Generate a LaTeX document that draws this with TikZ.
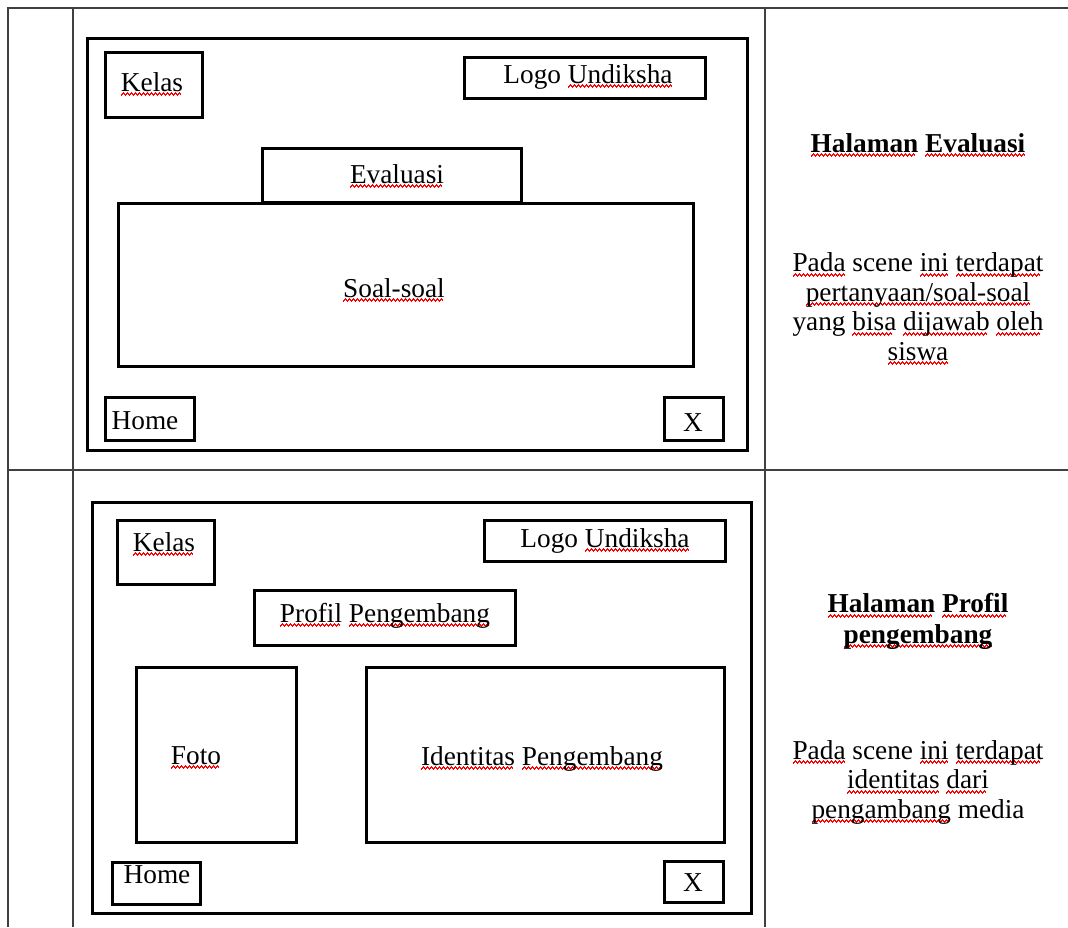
\documentclass[tikz,border=0pt]{standalone}
\usepackage{fontspec}
\setmainfont{Liberation Serif}
% red spell-check wave under a word
\newcommand{\wv}{\hbox{\rule[-5pt]{1pt}{1.6pt}\rule[-4pt]{1pt}{1.6pt}\rule[-3pt]{1pt}{1.6pt}\rule[-4pt]{1pt}{1.6pt}}}
\newcommand{\sq}[1]{\setbox0=\hbox{#1}\rlap{\color{red}\hbox to\wd0{\leaders\wv\hfill}}#1}

\begin{document}
\begin{tikzpicture}[x=1pt,y=-1pt,
	box/.style={draw,line width=3pt,inner sep=0pt,rectangle},
	grid/.style={draw=black!75,line width=1.3pt},
	lbl/.style={anchor=base,inner sep=0pt,align=center,
	font=\fontsize{27.3}{29.5}\selectfont}]
\useasboundingbox (0,0) rectangle (1068,927);
% table
\draw[grid] (8,927) -- (8,8) -- (1068,8);
\draw[grid] (73,8) -- (73,927);
\draw[grid] (765,8) -- (765,927);
\draw[grid] (8,470) -- (1068,470);
% halaman evaluasi
\node[box, minimum width=660pt, minimum height=412pt] (scrA) at (417,244) {};
\node[box, minimum width=97pt, minimum height=65pt] (kelasA) at (153.5,84.5) {};
\node[box, minimum width=241pt, minimum height=41pt] (logoA) at (584.5,77.5) {};
\node[box, minimum width=259pt, minimum height=54pt] (evalA) at (391.5,175) {};
\node[box, minimum width=575pt, minimum height=163pt] (soalA) at (405.5,284.5) {};
\node[box, minimum width=89pt, minimum height=43pt] (homeA) at (149.5,418.5) {};
\node[box, minimum width=59pt, minimum height=43pt] (xA) at (693.5,418.5) {};
\node[lbl] (kelasAt) at (152,91) {\sq{Kelas}};
\node[lbl] (logoAt) at (588,83) {Logo \sq{Undiksha}};
\node[lbl] (evalAt) at (397,183) {\sq{Evaluasi}};
\node[lbl] (soalAt) at (394,297) {\sq{Soal-soal}};
\node[lbl] (homeAt) at (145,429) {Home};
\node[lbl] (xAt) at (693,431) {X};
\node[lbl, font=\fontsize{27.3}{29.5}\selectfont\bfseries] (headA) at (918,152) {\sq{Halaman} \sq{Evaluasi}};
% base of a multi-line node is its last line
\node[lbl] (descA) at (918,360) {\sq{Pada} scene \sq{ini} \sq{terdapat}\\
	\sq{pertanyaan/soal-soal}\\ yang \sq{bisa} \sq{dijawab} \sq{oleh}\\ \sq{siswa}};
% halaman profil pengembang
\node[box, minimum width=659pt, minimum height=411pt] (scrB) at (421.5,707.5) {};
\node[box, minimum width=97pt, minimum height=64pt] (kelasB) at (165.5,552) {};
\node[box, minimum width=241pt, minimum height=41pt] (logoB) at (604.5,540.5) {};
\node[box, minimum width=261pt, minimum height=55pt] (profB) at (384.5,617.5) {};
\node[box, minimum width=160pt, minimum height=175pt] (fotoB) at (216,754.5) {};
\node[box, minimum width=358pt, minimum height=175pt] (identB) at (545,754.5) {};
\node[box, minimum width=88pt, minimum height=42pt] (homeB) at (156,883) {};
\node[box, minimum width=59pt, minimum height=41pt] (xB) at (693.5,881.5) {};
\node[lbl] (kelasBt) at (164,551) {\sq{Kelas}};
\node[lbl] (logoBt) at (605,547) {Logo \sq{Undiksha}};
\node[lbl] (profBt) at (385,622) {\sq{Profil} \sq{Pengembang}};
\node[lbl] (fotoBt) at (196,764) {\sq{Foto}};
\node[lbl] (identBt) at (542,765) {\sq{Identitas} \sq{Pengembang}};
\node[lbl] (homeBt) at (157,883) {Home};
\node[lbl] (xBt) at (693,891) {X};
\node[lbl, font=\fontsize{27.3}{30.5}\selectfont\bfseries] (headB) at (918,643) {\sq{Halaman} \sq{Profil}\\ \sq{pengembang}};
\node[lbl] (descB) at (918,818) {\sq{Pada} scene \sq{ini} \sq{terdapat}\\
	\sq{identitas} \sq{dari}\\ \sq{pengambang} media};
\end{tikzpicture}
\end{document}
